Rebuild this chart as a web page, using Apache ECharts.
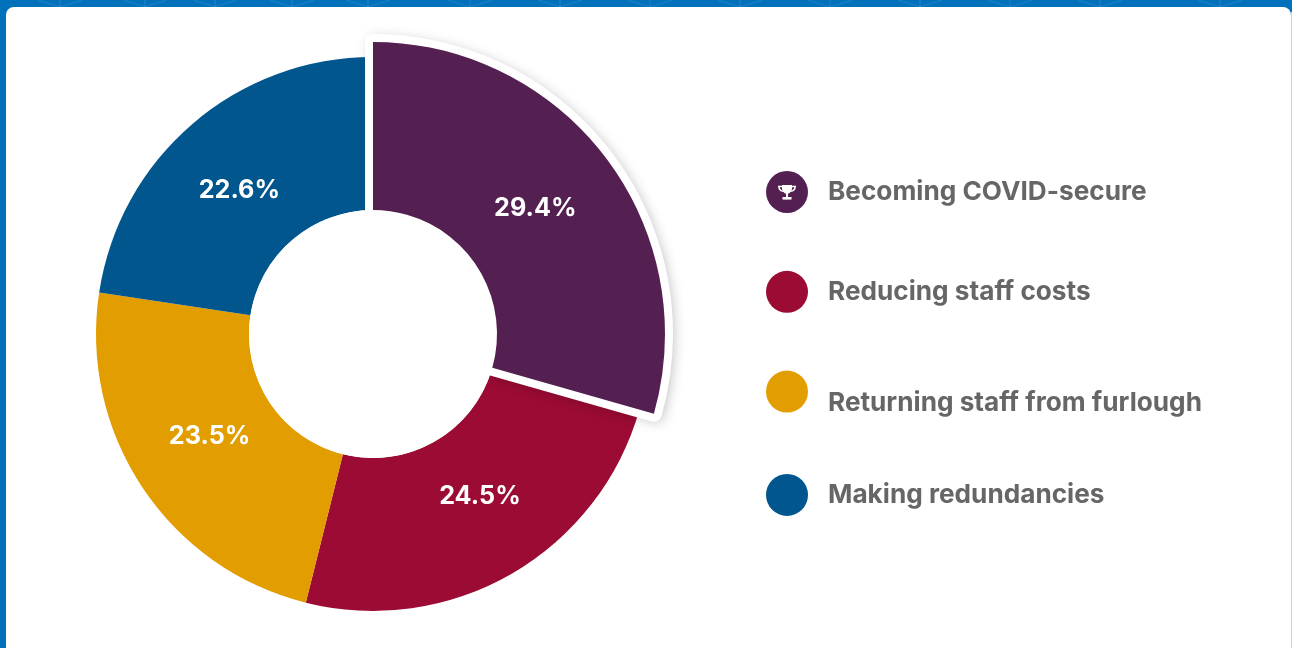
<!DOCTYPE html>
<html>
<head>
<meta charset="utf-8">
<style>
html,body{margin:0;padding:0;background:#0171bb;overflow:hidden}
#chart{width:1292px;height:648px}
</style>
<script src="https://cdn.jsdelivr.net/npm/echarts@6/dist/echarts.min.js"></script>
</head>
<body>
<div id="chart"></div>
<script>
var categories = ['Becoming COVID-secure', 'Reducing staff costs', 'Returning staff from furlough', 'Making redundancies'];
var shares = [29.4, 24.5, 23.5, 22.6];
var colors = ['#542051', '#9b0b33', '#e29d00', '#01568d'];

var CENTER = [373, 334];
var INNER_R = 124;
var FONT = 'Inter, Lato, "Noto Sans", sans-serif';
var LABEL_NUDGE = [[-6, 2], [5, -14], [6, -10], [-1, 11]];
var rest = shares.slice(1).reduce(function (a, b) { return a + b; }, 0);
var highlightData = [
  { value: shares[0], name: categories[0] },
  { value: rest, name: '', itemStyle: { color: 'transparent', borderWidth: 0, shadowBlur: 0 }, label: { show: false } }
];
var labelStyle = { show: true, position: 'inside', formatter: '{c}%', color: '#fff', fontFamily: FONT, fontWeight: 700, fontSize: 25.2 };

var spokes = [];
[60, 145, 215, 292, 368, 470, 560, 650, 740, 830, 920, 1010, 1100, 1220].forEach(function (x) {
  [-22, 0, 22].forEach(function (d) {
    spokes.push({ type: 'line', z: -2, shape: { x1: x, y1: 7, x2: x + d, y2: 0 }, style: { stroke: 'rgba(255,255,255,0.07)', lineWidth: 2 }, silent: true });
  });
});

var white = { fill: '#fff' };
var trophy = [
  { type: 'polygon', z: 20, silent: true, style: white, shape: { points: [[782, 185], [792, 185], [792, 189], [791, 191.5], [789, 193.4], [785, 193.4], [783, 191.5], [782, 189]] } },
  { type: 'polyline', z: 20, silent: true, style: { stroke: '#fff', fill: 'none', lineWidth: 1.5 }, shape: { points: [[782, 186.6], [778.8, 186.6], [779.4, 189], [781, 190.6], [783, 191.4]] } },
  { type: 'polyline', z: 20, silent: true, style: { stroke: '#fff', fill: 'none', lineWidth: 1.5 }, shape: { points: [[792, 186.6], [795.2, 186.6], [794.6, 189], [793, 190.6], [791, 191.4]] } },
  { type: 'rect', z: 20, silent: true, style: white, shape: { x: 786, y: 193, width: 2, height: 4 } },
  { type: 'rect', z: 20, silent: true, style: white, shape: { x: 782.5, y: 197, width: 9, height: 2.6 } }
];

var chart = echarts.init(document.getElementById('chart'), null, { renderer: 'canvas' });
chart.setOption({
  animation: false,
  backgroundColor: '#0171bb',
  color: colors,
  legend: {
    orient: 'vertical',
    left: 761,
    top: 166,
    data: categories,
    icon: 'circle',
    itemWidth: 42,
    itemHeight: 42,
    itemGap: 57.8,
    selectedMode: false,
    formatter: function (name) {
      return name === categories[2] ? '{low|' + name + '}' : '{base|' + name + '}';
    },
    textStyle: {
      padding: [0, 0, 0, 15],
      rich: {
        base: { color: '#666', fontFamily: FONT, fontWeight: 700, fontSize: 26.2 },
        low: { color: '#666', fontFamily: FONT, fontWeight: 700, fontSize: 26.2, padding: [23, 0, 0, 0] }
      }
    }
  },
  graphic: spokes.concat([
    { type: 'rect', z: -1, shape: { x: 6, y: 7, width: 1285, height: 660, r: 8 }, style: { fill: '#fff' }, silent: true },
    { type: 'rect', z: -1, shape: { x: 1291, y: 12, width: 1, height: 636 }, style: { fill: '#c3d8e6' }, silent: true },
    { type: 'circle', z: 3.5, shape: { cx: CENTER[0], cy: CENTER[1], r: INNER_R }, style: { fill: '#fff' }, silent: true }
  ]).concat(trophy),
  series: [
    {
      type: 'pie', z: 2, silent: true, center: CENTER, radius: [INNER_R, 277], startAngle: 90, clockwise: true,
      data: categories.map(function (n, i) {
        return { name: n, value: shares[i], itemStyle: { color: colors[i] }, label: i === 0 ? { show: false } : { offset: LABEL_NUDGE[i] } };
      }),
      label: labelStyle, labelLine: { show: false }
    },
    {
      type: 'pie', z: 3, silent: true, center: CENTER, radius: [INNER_R, 292], startAngle: 90, clockwise: true,
      data: highlightData,
      itemStyle: { color: colors[0], borderColor: '#fff', borderWidth: 16, borderJoin: 'round', shadowColor: 'rgba(0,0,0,0.16)', shadowBlur: 12, shadowOffsetX: 3, shadowOffsetY: 2 },
      label: { show: false }, labelLine: { show: false }
    },
    {
      type: 'pie', z: 4, silent: true, center: CENTER, radius: [INNER_R, 292], startAngle: 90, clockwise: true,
      data: highlightData.map(function (d, i) { return i === 0 ? { name: d.name, value: d.value, label: { offset: LABEL_NUDGE[0] } } : { name: d.name, value: d.value, itemStyle: { color: 'transparent' }, label: { show: false } }; }),
      itemStyle: { color: colors[0] },
      label: labelStyle, labelLine: { show: false }
    }
  ]
});
</script>
</body>
</html>
